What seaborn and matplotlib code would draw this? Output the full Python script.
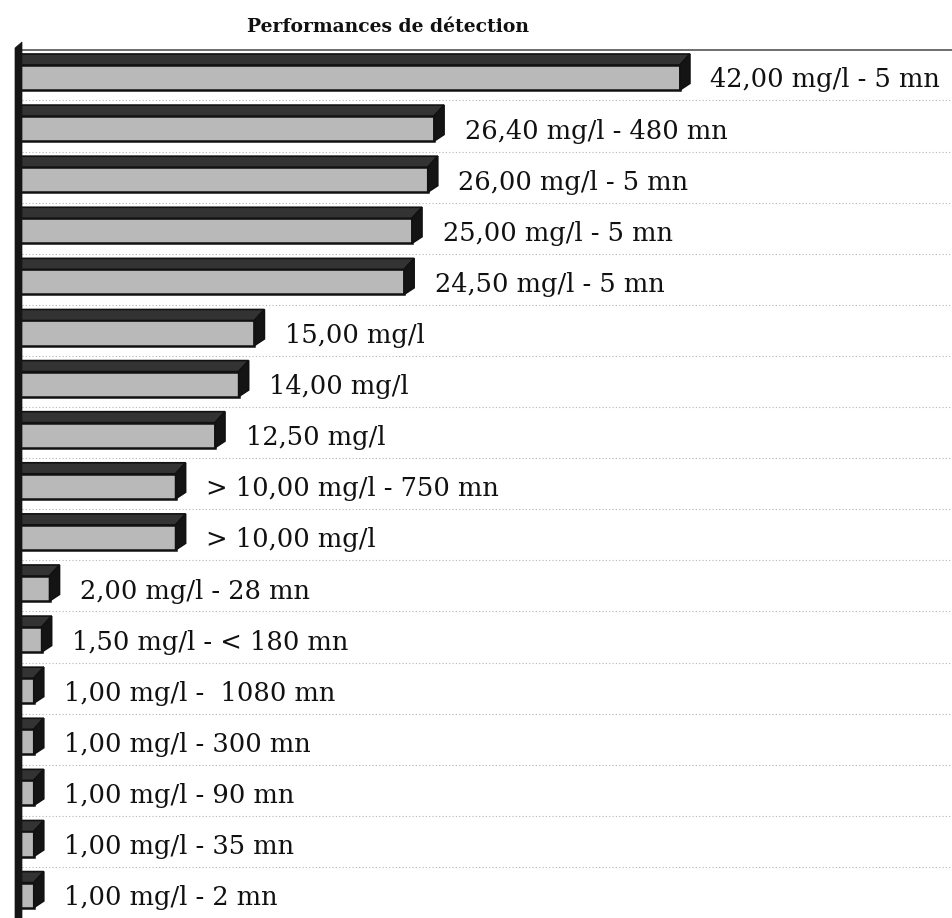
import matplotlib
matplotlib.use("Agg")
import matplotlib.pyplot as plt
from matplotlib.patches import Polygon
import seaborn as sns
import pandas as pd

# Detection limits (mg/l) and their annotation text
labels = [
    "42,00 mg/l - 5 mn",
    "26,40 mg/l - 480 mn",
    "26,00 mg/l - 5 mn",
    "25,00 mg/l - 5 mn",
    "24,50 mg/l - 5 mn",
    "15,00 mg/l",
    "14,00 mg/l",
    "12,50 mg/l",
    "> 10,00 mg/l - 750 mn",
    "> 10,00 mg/l",
    "2,00 mg/l - 28 mn",
    "1,50 mg/l - < 180 mn",
    "1,00 mg/l -  1080 mn",
    "1,00 mg/l - 300 mn",
    "1,00 mg/l - 90 mn",
    "1,00 mg/l - 35 mn",
    "1,00 mg/l - 2 mn",
]
values = [42.0, 26.4, 26.0, 25.0, 24.5, 15.0, 14.0, 12.5, 10.0, 10.0,
          2.0, 1.5, 1.0, 1.0, 1.0, 1.0, 1.0]
title = "Performances de détection"

df = pd.DataFrame({"label": labels, "value": values})

sns.set_theme(style="white")
plt.rcParams["font.family"] = ["DejaVu Serif", "DejaVu Sans"]

W, H = 953, 918
fig = plt.figure(figsize=(W / 100, H / 100), dpi=100)

# axes geometry in pixels
left_px, top_px = 10, 40
ax = fig.add_axes([left_px / W, 0, (W - left_px) / W, (H - top_px) / H])

px_per_unit = 15.76
row_px = 51.1
row0_px = 77.5
x0_px = 18

sns.barplot(data=df, y="label", x="value", orient="h", order=labels,
            color="#b9b9b9", width=0.49, saturation=1,
            edgecolor="#111111", linewidth=1.8, ax=ax, zorder=3)

xmin = -(x0_px - left_px) / px_per_unit
xmax = (W - x0_px) / px_per_unit
ax.set_xlim(xmin, xmax)
ymin = (top_px - row0_px) / row_px
ymax = (H - row0_px) / row_px
ax.set_ylim(ymax, ymin)

# depth of the 3D extrusion
dx = 10 / px_per_unit
dy = 11 / row_px

for rect in list(ax.patches):
    x = rect.get_x()
    w = rect.get_width()
    y = rect.get_y()
    h = rect.get_height()
    ytop = min(y, y + h)
    ybot = max(y, y + h)
    x1 = x + w
    top = Polygon([(x, ytop), (x + dx * 0.3, ytop - dy), (x1 + dx, ytop - dy), (x1, ytop)],
                  closed=True, facecolor="#333333", edgecolor="#111111", lw=1.2, zorder=3)
    side = Polygon([(x1, ytop), (x1 + dx, ytop - dy), (x1 + dx, ybot - dy * 0.6), (x1, ybot)],
                   closed=True, facecolor="#141414", edgecolor="#111111", lw=1.2, zorder=3)
    ax.add_patch(top)
    ax.add_patch(side)

# value annotations to the right of each bar
for i, (lab, v) in enumerate(zip(labels, values)):
    ax.annotate(lab, xy=(v, i), xytext=(22, 0), textcoords="offset points",
                ha="left", va="center_baseline", fontsize=18.5, color="#111111",
                zorder=4)

# dotted guide lines between the rows
for k in range(len(labels) - 1):
    ax.plot([0.25, xmax], [k + 0.45, k + 0.45], color="#b5b5b5", lw=0.8,
            ls=(0, (1, 2)), zorder=1)

# top frame line
top_y = (50 - row0_px) / row_px
ax.plot([0.25, xmax], [top_y, top_y], color="#555555", lw=1.2, zorder=2,
        solid_capstyle="butt")

# left wall
wall_l = (15 - x0_px) / px_per_unit
wall_r = (22 - x0_px) / px_per_unit
wall_top_l = (48 - row0_px) / row_px
wall_top_r = (42 - row0_px) / row_px
ax.add_patch(Polygon([(wall_l, wall_top_l), (wall_r, wall_top_r), (wall_r, ymax), (wall_l, ymax)],
                     closed=True, facecolor="#151515", edgecolor="#151515", lw=0.5, zorder=5))

ax.set_xlabel("")
ax.set_ylabel("")
ax.set_xticks([])
ax.set_yticks([])
for s in ax.spines.values():
    s.set_visible(False)

fig.text(388 / W, 1 - 27 / H, title, ha="center", va="center",
         fontsize=13.5, fontweight="bold", color="#111111")

fig.savefig("out.png", dpi=100)
